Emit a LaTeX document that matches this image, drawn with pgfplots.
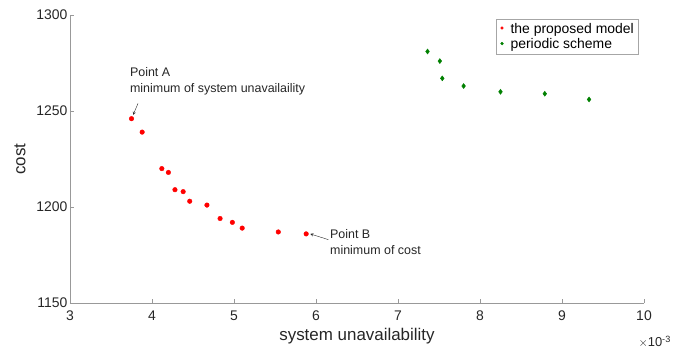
\documentclass[border=0pt]{standalone}
\usepackage{pgfplots}
\pgfplotsset{compat=1.18}
\usepackage{fontspec}
\setmainfont{Liberation Sans}
\definecolor{mgreen}{RGB}{0,128,0}
\definecolor{txt}{RGB}{38,38,38}
\begin{document}
\begin{tikzpicture}
\useasboundingbox (-70bp,-47bp) rectangle (606bp,303bp);
\begin{axis}[
  at={(0,0)}, anchor=south west,
  scale only axis, width=574bp, height=288bp,
  xmin=3, xmax=10, ymin=1150, ymax=1300,
  xtick={3,4,...,10}, ytick={1150,1200,1250,1300},
  axis lines=left, axis line style={-, draw=gray!80},
  tick align=inside, tick style={gray!80},
  major tick length=4bp,
  /pgf/number format/assume math mode=true,
  /pgf/number format/1000 sep={},
  ticklabel style={font=\fontsize{14}{14}\selectfont, text=txt},
  xticklabel style={yshift=-4bp},
  yticklabel style={xshift=1bp},
  xlabel={system unavailability}, ylabel={cost},
  label style={font=\fontsize{17}{17}\selectfont, text=txt},
  xlabel style={yshift=-1bp},
  ylabel style={yshift=4bp},
  clip=false,
  legend style={at={(1,1)}, anchor=north east, xshift=-6bp, yshift=-4bp,
    draw=gray!70, font=\fontsize{14}{17}\selectfont, row sep=0bp,
    inner xsep=2bp, inner ysep=2bp},
  legend image code/.code={\path[draw=none,fill=none] (0,-0.1em) rectangle (1.0em,0.1em); \fill[#1] (0.35em,0.1em) circle (1.4bp);},
  legend cell align=left,
]
\addplot[only marks, mark=*, mark size=2.3bp, color=red, fill=red] coordinates {
(3.75,1246) (3.88,1239) (4.12,1220) (4.20,1218) (4.28,1209) (4.38,1208)
(4.46,1203) (4.67,1201) (4.83,1194) (4.98,1192) (5.10,1189) (5.54,1187) (5.88,1186)
};
\addlegendentry{the proposed model}
\addplot[only marks, mark=diamond*, mark size=2.5bp, color=mgreen, fill=mgreen] coordinates {
(7.36,1281) (7.51,1276) (7.54,1267) (7.80,1263) (8.25,1260) (8.79,1259) (9.33,1256)
};
\addlegendentry{periodic scheme}
\node[anchor=south west, font=\fontsize{12.5}{16}\selectfont, text=txt, align=left, inner sep=0pt]
  at (axis cs:3.73,1258) {Point A\\minimum of system unavailaility};
\draw[-stealth, txt] (axis cs:3.83,1254) -- (axis cs:3.77,1248);
\node[anchor=north west, font=\fontsize{12.5}{16}\selectfont, text=txt, align=left, inner sep=0pt]
  at (axis cs:6.17,1188.5) {Point B\\minimum of cost};
\draw[-stealth, txt] (axis cs:6.15,1183) -- (axis cs:5.93,1186);
\node[anchor=south east, font=\fontsize{13}{13}\selectfont, text=txt, inner sep=0pt]
  at ([xshift=27bp,yshift=-45bp]rel axis cs:1,0) {$\times$10\textsuperscript{-3}};
\end{axis}
\end{tikzpicture}
\end{document}
